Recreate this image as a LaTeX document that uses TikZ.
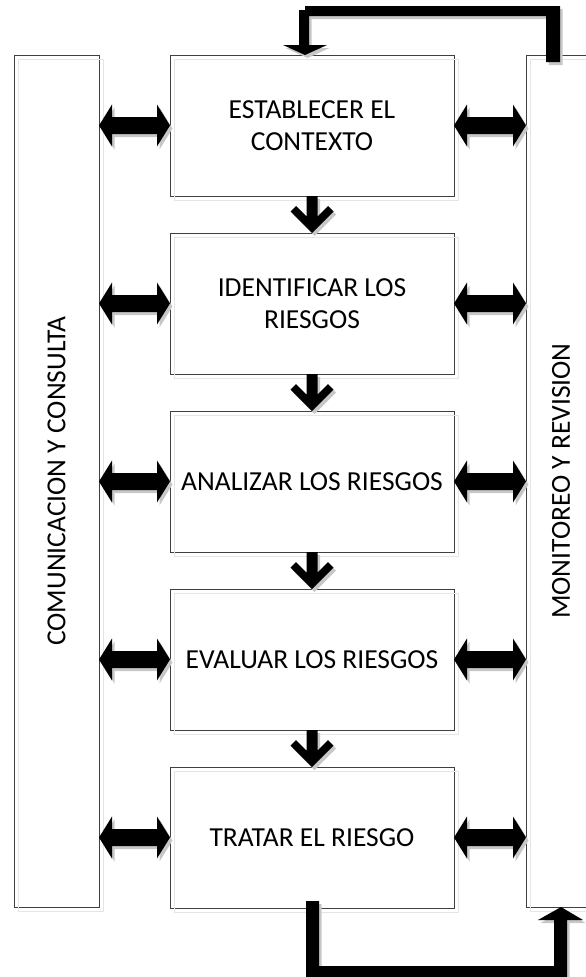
\documentclass[tikz,border=0pt]{standalone}
\usepackage{fontspec}
\setmainfont{Carlito}
\usetikzlibrary{calc}

\tikzset{
  stage/.style={draw=black!75, line width=0.8pt, minimum width=284pt, minimum height=141pt,
                inner sep=0pt, outer sep=0pt, align=center, font=\fontsize{27.5}{32}\selectfont},
  band/.style={draw=black!75, line width=0.8pt, minimum height=852pt, inner sep=0pt, outer sep=0pt},
  bandtext/.style={rotate=90, inner sep=0pt, font=\fontsize{27.5}{32}\selectfont},
  blockarrow/.style={fill=black},
  arrowshadow/.style={fill=black!22, transform canvas={shift={(2.5pt,-3pt)}}},
  boxshadow/.style={draw=black!10, line width=0.8pt},
}

% horizontal double-headed block arrow between two points at the same height
\newcommand\twoway[3][blockarrow]{%
  \fill[#1] (#2) -- ($(#2)+(13,-21)$) -- ($(#2)+(13,-8.5)$) -- ($(#3)+(-13,-8.5)$)
    -- ($(#3)+(-13,-21)$) -- (#3) -- ($(#3)+(-13,21)$) -- ($(#3)+(-13,8.5)$)
    -- ($(#2)+(13,8.5)$) -- ($(#2)+(13,21)$) -- cycle;}

% downward arrow with a chevron head, from a box bottom to the next box top
\newcommand\downstep[3][blockarrow]{%
  \fill[#1] ($(#2)+(-5.5,0)$) -- ($(#2)+(5.5,0)$) -- ($(#3)+(5.5,-16.5)$)
    -- ($(#3)+(16,-27)$) -- ($(#3)+(21.5,-21.5)$) -- (#3) -- ($(#3)+(-21.5,-21.5)$)
    -- ($(#3)+(-16,-27)$) -- ($(#3)+(-5.5,-16.5)$) -- cycle;}

% feedback from monitoring back into the first stage (over the top)
\newcommand\topreturn[3][blockarrow]{%
  \fill[#1] ($(#2)+(-15,7)$) -- ($(#2)+(-15,-39)$) -- ($(#3)+(-3,-39)$) -- ($(#3)+(-3,-10)$)
    -- ($(#3)+(15,-10)$) -- ($(#3)+(-7,0)$) -- ($(#3)+(-29,-10)$) -- ($(#3)+(-13,-10)$)
    -- ($(#3)+(-13,-45)$) -- ($(#3)+(-7,-45)$) -- ($(#3)+(-7,-49)$) -- ($(#2)+(-1,-49)$)
    -- ($(#2)+(-1,7)$) -- cycle;}

% link from the last stage into monitoring (under the bottom)
\newcommand\bottomreturn[3][blockarrow]{%
  \fill[#1] ($(#2)+(-6,-7)$) -- ($(#2)+(7,-7)$) -- ($(#2)+(7,58)$) -- ($(#3)+(-7,59)$)
    -- ($(#3)+(-7,13)$) -- ($(#3)+(-23,13)$) -- (#3) -- ($(#3)+(22,13)$) -- ($(#3)+(6,13)$)
    -- ($(#3)+(6,83)$) -- ($(#2)+(-6,82)$) -- cycle;}

\begin{document}
\begin{tikzpicture}[x=1pt, y=-1pt]
  \useasboundingbox (0,0) rectangle (586,977);
  \clip (0,0) rectangle (586,977);

  % side bands
  \node[band, minimum width=85pt] (COM) at (56.5,481) {};
  \node[bandtext] (COMtext) at (COM.center) {COMUNICACION Y CONSULTA};
  \node[band, minimum width=70pt] (MON) at (561,481) {};
  \node[bandtext] (MONtext) at (561,481) {MONITOREO Y REVISION};

  % process stages
  \node[stage] (B1) at (312,125.5) {ESTABLECER EL\\CONTEXTO};
  \node[stage] (B2) at (312,303.5) {IDENTIFICAR LOS\\RIESGOS};
  \node[stage] (B3) at (312,481.5) {ANALIZAR LOS RIESGOS};
  \node[stage] (B4) at (312,659.5) {EVALUAR LOS RIESGOS};
  \node[stage] (B5) at (312,837.5) {TRATAR EL RIESGO};

  % faint box shadows
  \foreach \b in {COM,MON,B1,B2,B3,B4,B5}{
    \draw[boxshadow] ($(\b.north west)+(4,4)$) rectangle ($(\b.south east)+(4,4)$);
  }

  % arrow end points on the side bands
  \foreach \i in {1,...,5}{
    \coordinate (L\i) at (COM.east |- B\i.west);
    \coordinate (R\i) at (MON.west |- B\i.east);
  }

  % shadows of the arrows
  \foreach \i in {1,...,5}{
    \twoway[arrowshadow]{L\i}{B\i.west}
    \twoway[arrowshadow]{B\i.east}{R\i}
  }
  \downstep[arrowshadow]{B1.south}{B2.north}
  \downstep[arrowshadow]{B2.south}{B3.north}
  \downstep[arrowshadow]{B3.south}{B4.north}
  \downstep[arrowshadow]{B4.south}{B5.north}
  \topreturn[arrowshadow]{MON.north}{B1.north}
  \bottomreturn[arrowshadow]{B5.south}{MON.south}

  % arrows
  \foreach \i in {1,...,5}{
    \twoway{L\i}{B\i.west}
    \twoway{B\i.east}{R\i}
  }
  \downstep{B1.south}{B2.north}
  \downstep{B2.south}{B3.north}
  \downstep{B3.south}{B4.north}
  \downstep{B4.south}{B5.north}
  \topreturn{MON.north}{B1.north}
  \bottomreturn{B5.south}{MON.south}
\end{tikzpicture}
\end{document}
